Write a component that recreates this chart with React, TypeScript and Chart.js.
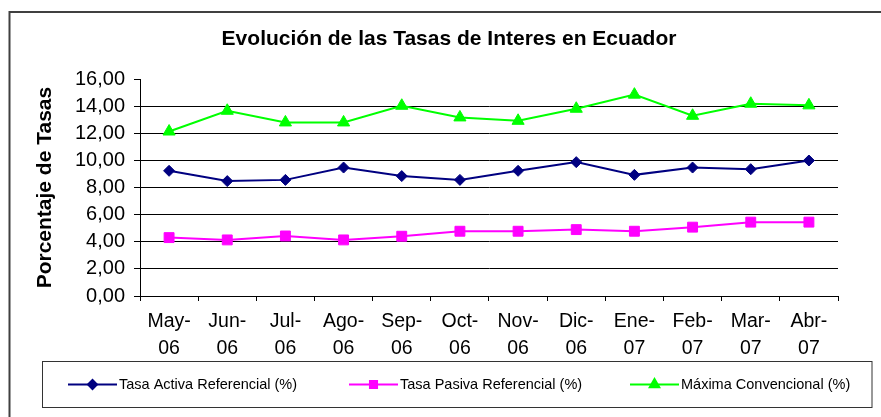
import React, { useEffect, useRef } from 'react';
import { Chart, registerables } from 'chart.js';
import { drawPoint } from 'chart.js/helpers';

Chart.register(...registerables);

const categories: string[][] = [
  ['May-', '06'], ['Jun-', '06'], ['Jul-', '06'], ['Ago-', '06'], ['Sep-', '06'], ['Oct-', '06'],
  ['Nov-', '06'], ['Dic-', '06'], ['Ene-', '07'], ['Feb-', '07'], ['Mar-', '07'], ['Abr-', '07'],
];
const tasaActiva = [9.24, 8.48, 8.57, 9.48, 8.85, 8.57, 9.24, 9.88, 8.94, 9.48, 9.36, 10.0];
const tasaPasiva = [4.31, 4.14, 4.43, 4.14, 4.41, 4.78, 4.78, 4.9, 4.78, 5.08, 5.45, 5.45];
const maximaConvencional = [12.14, 13.67, 12.81, 12.81, 14.04, 13.18, 12.93, 13.82, 14.86, 13.3, 14.19, 14.07];
const seriesLabels = ['Tasa Activa Referencial (%)', 'Tasa Pasiva Referencial (%)', 'Máxima Convencional (%)'];
const yTicks = { min: 0, max: 16, step: 2 };

const FONT = 'Arial, "Liberation Sans", sans-serif';

const frameAndLegend = {
  id: 'frameAndLegend',
  beforeDraw(chart: any) {
    const ctx = chart.ctx;
    ctx.save();
    ctx.fillStyle = '#ffffff';
    ctx.fillRect(0, 0, chart.width, chart.height);
    ctx.strokeStyle = '#404040';
    ctx.lineWidth = 2;
    ctx.strokeRect(9.5, 12, 1000, 1000);
    ctx.restore();
  },
  afterDraw(chart: any) {
    const ctx = chart.ctx;
    ctx.save();
    ctx.strokeStyle = '#333333';
    ctx.lineWidth = 1;
    ctx.strokeRect(42.5, 361.5, 829.5, 46);
    const y = 384.5;
    const markerR = [4.5, 5, 5.5];
    chart.data.datasets.forEach((ds: any, i: number) => {
      const x0 = 68 + i * 281;
      ctx.strokeStyle = ds.borderColor;
      ctx.lineWidth = 2;
      ctx.beginPath();
      ctx.moveTo(x0, y);
      ctx.lineTo(x0 + 49, y);
      ctx.stroke();
      ctx.fillStyle = ds.borderColor;
      drawPoint(ctx, { pointStyle: ds.pointStyle, radius: markerR[i], borderWidth: 1, rotation: 0 }, x0 + 24.5, y);
      ctx.fillStyle = '#000000';
      ctx.font = `14.5px ${FONT}`;
      ctx.textBaseline = 'middle';
      ctx.textAlign = 'left';
      ctx.fillText(ds.label, x0 + 51, y);
    });
    ctx.restore();
  },
};

export default function App() {
  const ref = useRef<HTMLCanvasElement | null>(null);
  useEffect(() => {
    if (!ref.current) return;
    const mk = (label: string, data: number[], color: string, style: string, r: number) => ({
      label,
      data,
      borderColor: color,
      backgroundColor: color,
      pointBackgroundColor: color,
      pointBorderColor: color,
      pointStyle: style,
      pointRadius: r,
      pointBorderWidth: 1,
      borderWidth: 2,
      tension: 0,
      fill: false,
    });
    const chart = new Chart(ref.current, {
      type: 'line',
      data: {
        labels: categories,
        datasets: [
          mk(seriesLabels[0], tasaActiva, '#000080', 'rectRot', 5.5),
          mk(seriesLabels[1], tasaPasiva, '#FF00FF', 'rect', 7),
          mk(seriesLabels[2], maximaConvencional, '#00FF00', 'triangle', 7),
        ],
      },
      options: {
        responsive: false,
        animation: false,
        devicePixelRatio: 1,
        layout: { padding: { left: 60, right: 43, top: 0, bottom: 0 } },
        plugins: {
          legend: { display: false },
          tooltip: { enabled: false },
          title: {
            display: true,
            text: 'Evolución de las Tasas de Interes en Ecuador',
            color: '#000000',
            font: { family: FONT, size: 21, weight: 'bold', lineHeight: 1.2 },
            padding: { top: 27, bottom: 27 },
          },
        },
        scales: {
          x: {
            type: 'category',
            offset: true,
            afterFit: (s: any) => { s.height = 121; },
            grid: { display: true, drawOnChartArea: false, drawTicks: true, tickLength: 5, offset: true, color: '#000000' },
            border: { display: true, color: '#000000', width: 1 },
            ticks: {
              color: '#000000',
              font: { family: FONT, size: 19.5, lineHeight: 1.4 },
              padding: 7,
              maxRotation: 0,
              autoSkip: false,
            },
          },
          y: {
            min: yTicks.min,
            max: yTicks.max,
            afterFit: (s: any) => { s.width = 80; },
            grid: {
              color: (c: any) => (c.tick && (c.tick.value === yTicks.max || c.tick.value === yTicks.min) ? 'rgba(0,0,0,0)' : '#000000'),
              tickColor: '#000000',
              tickLength: 6,
              drawTicks: true,
            },
            border: { display: true, color: '#000000', width: 1 },
            ticks: {
              stepSize: yTicks.step,
              color: '#000000',
              padding: 9,
              font: { family: FONT, size: 20 },
              callback: (v: any) => Number(v).toFixed(2).replace('.', ','),
            },
            title: {
              display: true,
              text: 'Porcentaje de Tasas',
              color: '#000000',
              font: { family: FONT, size: 21, weight: 'bold', lineHeight: 1.2 },
              padding: { top: -27.6, bottom: 0 },
            },
          },
        },
      },
      plugins: [frameAndLegend],
    } as any);
    return () => chart.destroy();
  }, []);
  return (
    <div style={{ position: 'fixed', left: 0, top: 0, width: 881, height: 417, background: '#fff' }}>
      <canvas ref={ref} width={881} height={417} style={{ width: 881, height: 417, display: 'block' }} />
    </div>
  );
}
